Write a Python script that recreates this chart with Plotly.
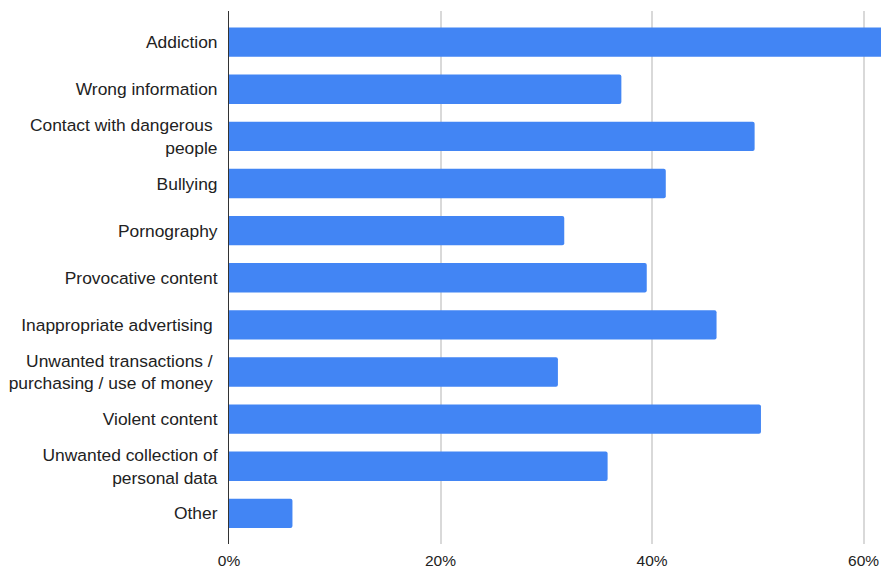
import plotly.graph_objects as go

# Share of respondents naming each online risk
categories = [
    "Addiction",
    "Wrong information",
    "Contact with dangerous <br>people",
    "Bullying",
    "Pornography",
    "Provocative content",
    "Inappropriate advertising ",
    "Unwanted transactions / <br>purchasing / use of money ",
    "Violent content",
    "Unwanted collection of<br>personal data",
    "Other",
]
shares = [63.0, 37.1, 49.7, 41.3, 31.7, 39.5, 46.1, 31.1, 50.3, 35.8, 6.0]

tick_values = [0, 20, 40, 60]
tick_labels = ["0%", "20%", "40%", "60%"]

fig = go.Figure(
    go.Bar(
        x=shares,
        y=categories,
        orientation="h",
        marker=dict(color="#4285F4", cornerradius=2, line=dict(width=0)),
        hoverinfo="x+y",
    )
)

fig.update_layout(
    width=881,
    height=569,
    margin=dict(l=229, r=0, t=11, b=23),
    paper_bgcolor="white",
    plot_bgcolor="white",
    bargap=0.378,
    showlegend=False,
    font=dict(family="Liberation Sans, Arial, sans-serif", color="#222222"),
)

fig.update_xaxes(
    range=[0, 61.65],
    tickvals=tick_values,
    ticktext=tick_labels,
    showgrid=True,
    gridcolor="#d9d9d9",
    gridwidth=1.5,
    zeroline=False,
    showline=False,
    ticks="",
    ticklabelstandoff=5,
    tickfont=dict(size=15.5, color="#222222"),
    fixedrange=True,
)

fig.update_yaxes(
    autorange=False,
    range=[10.65, -0.66],
    type="category",
    categoryorder="array",
    categoryarray=categories,
    showgrid=False,
    showline=True,
    linecolor="#333333",
    linewidth=1,
    ticks="",
    ticklabelstandoff=7,
    tickfont=dict(size=17.4, color="#222222"),
    fixedrange=True,
)

fig.write_html("out.html")
